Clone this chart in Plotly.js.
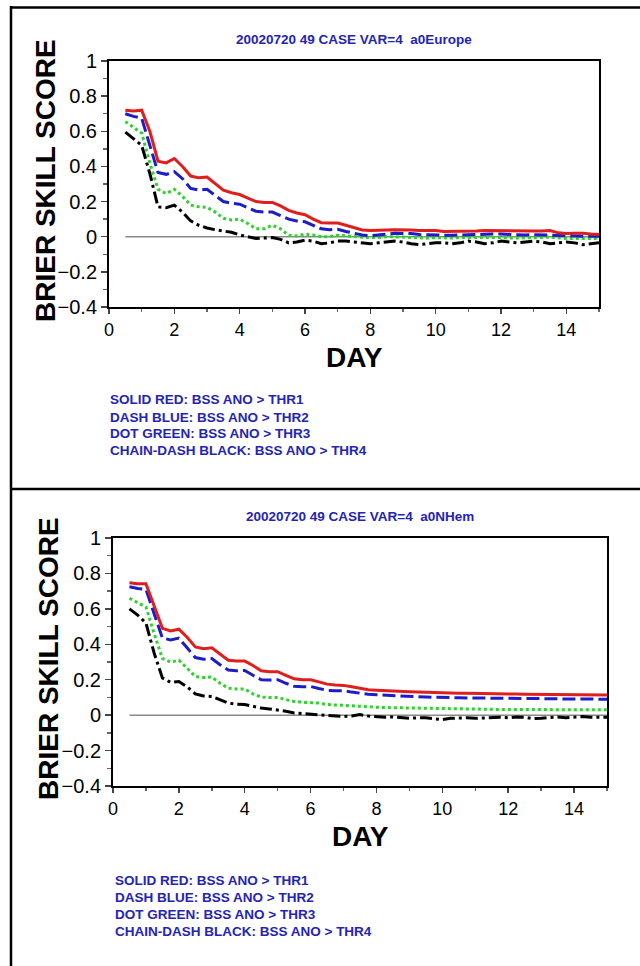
<!DOCTYPE html>
<html>
<head>
<meta charset="utf-8">
<script src="https://cdn.plot.ly/plotly-3.0.1.min.js"></script>
<style>html,body{margin:0;padding:0;background:#fff;}#chart{width:640px;height:966px;}</style>
</head>
<body>
<div id="chart"></div>
<script>
// forecast day (6-hourly steps from 0.5 to 15)
var days = [0.5,0.75,1,1.25,1.5,1.75,2,2.25,2.5,2.75,3,3.25,3.5,3.75,4,4.25,4.5,4.75,5,5.25,5.5,5.75,6,6.25,6.5,6.75,7,7.25,7.5,7.75,8,8.25,8.5,8.75,9,9.25,9.5,9.75,10,10.25,10.5,10.75,11,11.25,11.5,11.75,12,12.25,12.5,12.75,13,13.25,13.5,13.75,14,14.25,14.5,14.75,15];

// Panel 1: a0Europe
var eurThr1 = [0.72,0.715,0.72,0.60,0.43,0.42,0.445,0.40,0.345,0.335,0.34,0.30,0.265,0.25,0.24,0.22,0.20,0.195,0.195,0.175,0.15,0.135,0.125,0.10,0.08,0.078,0.078,0.065,0.05,0.038,0.035,0.035,0.038,0.04,0.04,0.038,0.035,0.035,0.035,0.03,0.03,0.03,0.032,0.032,0.036,0.035,0.035,0.032,0.03,0.03,0.032,0.032,0.035,0.022,0.018,0.02,0.02,0.015,0.012];
var eurThr2 = [0.70,0.685,0.675,0.52,0.365,0.355,0.37,0.33,0.275,0.265,0.27,0.235,0.20,0.19,0.185,0.165,0.145,0.14,0.14,0.12,0.10,0.09,0.085,0.065,0.045,0.04,0.042,0.03,0.02,0.01,0.005,0.008,0.015,0.02,0.02,0.018,0.012,0.01,0.012,0.01,0.008,0.01,0.012,0.012,0.015,0.015,0.015,0.012,0.01,0.01,0.012,0.01,0.01,0.005,0.005,0.005,0.003,0.003,0.002];
var eurThr3 = [0.655,0.62,0.59,0.42,0.27,0.245,0.27,0.23,0.18,0.17,0.168,0.14,0.105,0.095,0.10,0.075,0.045,0.045,0.065,0.045,0.008,0.005,0.015,0.01,0.0,0.0,0.008,0.005,0.0,-0.003,-0.005,-0.005,0.0,0.0,-0.002,-0.005,-0.008,-0.008,-0.005,-0.008,-0.008,-0.005,-0.005,-0.005,-0.002,-0.002,-0.005,-0.008,-0.008,-0.005,-0.005,-0.005,-0.002,-0.008,-0.01,-0.01,-0.01,-0.01,-0.01];
var eurThr4 = [0.595,0.56,0.52,0.36,0.17,0.165,0.18,0.14,0.09,0.065,0.05,0.04,0.033,0.025,0.01,0.0,-0.01,-0.008,-0.005,-0.015,-0.035,-0.03,-0.02,-0.025,-0.04,-0.035,-0.025,-0.025,-0.03,-0.035,-0.04,-0.035,-0.03,-0.025,-0.03,-0.04,-0.045,-0.04,-0.035,-0.035,-0.04,-0.035,-0.025,-0.03,-0.04,-0.035,-0.025,-0.03,-0.035,-0.03,-0.025,-0.03,-0.04,-0.035,-0.03,-0.035,-0.045,-0.04,-0.035];

// Panel 2: a0NHem
var nhThr1 = [0.748,0.742,0.742,0.62,0.49,0.475,0.485,0.44,0.385,0.375,0.38,0.345,0.31,0.305,0.305,0.28,0.25,0.245,0.245,0.225,0.205,0.20,0.20,0.188,0.175,0.17,0.168,0.16,0.15,0.143,0.14,0.137,0.135,0.133,0.132,0.13,0.128,0.127,0.127,0.125,0.124,0.123,0.123,0.122,0.12,0.12,0.12,0.119,0.118,0.118,0.118,0.117,0.116,0.115,0.115,0.115,0.114,0.114,0.114];
var nhThr2 = [0.725,0.715,0.71,0.57,0.435,0.425,0.435,0.38,0.325,0.315,0.32,0.285,0.255,0.25,0.252,0.225,0.20,0.198,0.20,0.18,0.163,0.16,0.162,0.15,0.14,0.138,0.138,0.13,0.122,0.118,0.115,0.112,0.11,0.107,0.105,0.104,0.102,0.10,0.10,0.099,0.098,0.097,0.097,0.096,0.095,0.095,0.095,0.094,0.094,0.093,0.093,0.093,0.092,0.092,0.091,0.091,0.09,0.09,0.09];
var nhThr3 = [0.66,0.635,0.61,0.46,0.32,0.30,0.31,0.265,0.218,0.212,0.215,0.18,0.152,0.148,0.148,0.12,0.102,0.10,0.10,0.088,0.077,0.073,0.072,0.068,0.06,0.057,0.056,0.052,0.048,0.046,0.045,0.043,0.042,0.04,0.04,0.038,0.037,0.036,0.035,0.035,0.034,0.034,0.033,0.033,0.033,0.032,0.032,0.032,0.031,0.031,0.031,0.031,0.03,0.03,0.03,0.03,0.03,0.03,0.03];
var nhThr4 = [0.60,0.565,0.52,0.35,0.21,0.185,0.19,0.16,0.12,0.108,0.105,0.088,0.068,0.062,0.06,0.05,0.04,0.035,0.03,0.022,0.012,0.008,0.005,0.003,0.0,-0.005,-0.008,-0.005,0.003,-0.005,-0.01,-0.012,-0.01,-0.015,-0.018,-0.015,-0.015,-0.02,-0.025,-0.018,-0.015,-0.015,-0.018,-0.015,-0.012,-0.012,-0.015,-0.01,-0.012,-0.02,-0.018,-0.012,-0.01,-0.015,-0.012,-0.008,-0.012,-0.01,-0.012];

// zero reference line
var refDays = [0.5, 15];
var refZero = [0, 0];

var panelTitles = ["20020720 49 CASE VAR=4\u00A0\u00A0a0Europe", "20020720 49 CASE VAR=4\u00A0\u00A0a0NHem"];
var legendLines = ["SOLID RED: BSS ANO > THR1", "DASH BLUE: BSS ANO > THR2", "DOT GREEN: BSS ANO > THR3", "CHAIN-DASH BLACK: BSS ANO > THR4"];
var yTitle = "BRIER SKILL SCORE";
var xTitle = "DAY";

var W = 640, H = 966;
function px(x){ return x / W; }
function py(y){ return 1 - y / H; }

var styles = [
  {color:'#e01e1e', dash:'solid'},
  {color:'#1c1cc8', dash:'13px,5px'},
  {color:'#2ed12e', dash:'3px,3px'},
  {color:'#000000', dash:'12px,4px,3px,4px'}
];

function mk(ys, i, xa, ya){
  return {x: days, y: ys, type:'scatter', mode:'lines', xaxis:xa, yaxis:ya, showlegend:false, hoverinfo:'skip',
    line:{color:styles[i].color, width:3, dash:styles[i].dash}};
}
function ref(xa, ya){
  return {x: refDays, y: refZero, type:'scatter', mode:'lines', xaxis:xa, yaxis:ya, showlegend:false, hoverinfo:'skip',
    line:{color:'#8a8a8a', width:1.5}};
}

var data = [
  ref('x','y'),
  mk(eurThr4,3,'x','y'), mk(eurThr3,2,'x','y'), mk(eurThr2,1,'x','y'), mk(eurThr1,0,'x','y'),
  ref('x2','y2'),
  mk(nhThr4,3,'x2','y2'), mk(nhThr3,2,'x2','y2'), mk(nhThr2,1,'x2','y2'), mk(nhThr1,0,'x2','y2')
];

function xax(dom, anchor){
  return {domain:dom, anchor:anchor, range:[0,15], dtick:2, tick0:0, showgrid:false, zeroline:false,
    showline:true, linewidth:2, linecolor:'#000', mirror:true, ticks:'outside', ticklen:5, tickwidth:1.5, tickcolor:'#444',
    minor:{dtick:1, ticks:'outside', ticklen:3, tickcolor:'#666', showgrid:false},
    tickfont:{family:'Liberation Sans, Arial, sans-serif', size:18, color:'#000'}, fixedrange:true};
}
function yax(dom, anchor){
  return {domain:dom, anchor:anchor, range:[-0.4,1], dtick:0.2, tick0:0, showgrid:false, zeroline:false,
    showline:true, linewidth:2, linecolor:'#000', mirror:true, ticks:'outside', ticklen:6, tickwidth:1.5, tickcolor:'#444',
    minor:{dtick:0.1, ticks:'outside', ticklen:4, tickcolor:'#666', showgrid:false},
    tickfont:{family:'Liberation Sans, Arial, sans-serif', size:20, color:'#000'}, fixedrange:true};
}

var panels = [
  {plot:{l:109, r:599, t:61, b:307}, titleY:39, yTitleX:45, dayY:357, legY:[400,417,433,450], legX:108},
  {plot:{l:113, r:607, t:538, b:786}, titleY:516, yTitleX:48, dayY:836, legY:[880,897,914,931], legX:113}
];

var annotations = [];
panels.forEach(function(p, k){
  var cx = (p.plot.l + p.plot.r) / 2;
  annotations.push({text:'<b>'+panelTitles[k]+'</b>', xref:'paper', yref:'paper', x:px(cx), y:py(p.titleY),
    xanchor:'center', yanchor:'middle', showarrow:false, font:{family:'Liberation Sans, Arial, sans-serif', size:13.5, color:'#2424b4'}});
  annotations.push({text:'<b>'+yTitle+'</b>', xref:'paper', yref:'paper', x:px(p.yTitleX), y:py((p.plot.t+p.plot.b)/2 - 3),
    xanchor:'center', yanchor:'middle', textangle:-90, showarrow:false, font:{family:'Liberation Sans, Arial, sans-serif', size:28, color:'#000'}});
  annotations.push({text:'<b>'+xTitle+'</b>', xref:'paper', yref:'paper', x:px(cx), y:py(p.dayY),
    xanchor:'center', yanchor:'middle', showarrow:false, borderpad:0, font:{family:'Liberation Sans, Arial, sans-serif', size:28, color:'#000'}});
  legendLines.forEach(function(t, j){
    annotations.push({text:'<b>'+t.replace('>','&gt;')+'</b>', xref:'paper', yref:'paper', x:px(p.legX), y:py(p.legY[j]),
      xanchor:'left', yanchor:'middle', showarrow:false, font:{family:'Liberation Sans, Arial, sans-serif', size:13.5, color:'#2424b4'}});
  });
});

var shapes = [
  {type:'line', xref:'paper', yref:'paper', x0:px(11), x1:px(11), y0:py(6), y1:py(970), line:{color:'#000', width:2.5}},
  {type:'line', xref:'paper', yref:'paper', x0:px(10), x1:px(645), y0:py(7.5), y1:py(7.5), line:{color:'#000', width:2.5}},
  {type:'line', xref:'paper', yref:'paper', x0:px(10), x1:px(645), y0:py(489), y1:py(489), line:{color:'#000', width:2.5}}
];

var layout = {
  width:W, height:H, margin:{l:0, r:0, t:0, b:0}, paper_bgcolor:'#fff', plot_bgcolor:'#fff', showlegend:false,
  xaxis: xax([px(panels[0].plot.l), px(panels[0].plot.r)], 'y'),
  yaxis: yax([py(panels[0].plot.b), py(panels[0].plot.t)], 'x'),
  xaxis2: xax([px(panels[1].plot.l), px(panels[1].plot.r)], 'y2'),
  yaxis2: yax([py(panels[1].plot.b), py(panels[1].plot.t)], 'x2'),
  annotations: annotations, shapes: shapes
};

Plotly.newPlot('chart', data, layout, {displayModeBar:false, staticPlot:true});
</script>
</body>
</html>
